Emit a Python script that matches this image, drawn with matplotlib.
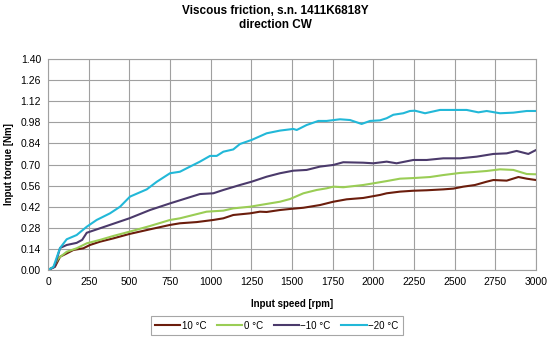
import matplotlib.pyplot as plt
import numpy as np

plt.rcParams['font.family'] = ['Liberation Sans', 'DejaVu Sans']

# values (rpm, Nm)
rpm_p10 = [0, 43, 74, 115, 156, 217, 258, 320, 402, 500, 627, 750, 811, 914, 1016, 1078, 1139,
           1242, 1303, 1344, 1426, 1488, 1570, 1672, 1754, 1836, 1938, 2041, 2082, 2164, 2246,
           2328, 2430, 2492, 2553, 2625, 2697, 2738, 2820, 2892, 2943, 3000]
tq_p10 = [0.0, 0.022, 0.088, 0.11, 0.133, 0.144, 0.166, 0.188, 0.21, 0.239, 0.27, 0.299, 0.31,
          0.318, 0.332, 0.343, 0.365, 0.376, 0.387, 0.385, 0.398, 0.405, 0.413, 0.431, 0.453,
          0.469, 0.478, 0.498, 0.509, 0.52, 0.526, 0.529, 0.535, 0.54, 0.553, 0.564, 0.586,
          0.597, 0.593, 0.617, 0.606, 0.597]

rpm_0 = [0, 33, 64, 115, 176, 238, 320, 402, 500, 627, 750, 811, 975, 1078, 1139, 1242, 1303,
         1426, 1488, 1570, 1652, 1713, 1754, 1815, 1938, 2000, 2082, 2164, 2246, 2349, 2430,
         2533, 2615, 2697, 2779, 2861, 2943, 3000]
tq_0 = [0.0, 0.02, 0.078, 0.121, 0.144, 0.177, 0.2, 0.226, 0.254, 0.292, 0.332, 0.343, 0.387,
        0.394, 0.409, 0.42, 0.431, 0.453, 0.471, 0.509, 0.531, 0.542, 0.553, 0.549, 0.564,
        0.575, 0.59, 0.606, 0.61, 0.617, 0.63, 0.644, 0.65, 0.657, 0.668, 0.664, 0.637, 0.635]

rpm_m10 = [0, 40, 74, 115, 176, 210, 238, 320, 500, 627, 750, 934, 1016, 1078, 1180, 1252,
           1344, 1426, 1508, 1590, 1672, 1754, 1815, 1938, 2000, 2082, 2143, 2246, 2328, 2430,
           2533, 2635, 2738, 2820, 2881, 2953, 3000]
tq_m10 = [0.0, 0.02, 0.146, 0.166, 0.18, 0.2, 0.247, 0.277, 0.343, 0.398, 0.442, 0.504, 0.509,
          0.531, 0.564, 0.586, 0.619, 0.642, 0.659, 0.664, 0.686, 0.697, 0.715, 0.712, 0.708,
          0.719, 0.708, 0.73, 0.73, 0.741, 0.741, 0.752, 0.77, 0.774, 0.79, 0.77, 0.796]

rpm_m20 = [0, 33, 74, 115, 176, 238, 299, 381, 443, 504, 607, 668, 750, 811, 873, 934, 996,
           1037, 1078, 1139, 1180, 1252, 1344, 1426, 1508, 1529, 1590, 1662, 1713, 1795, 1857,
           1928, 1980, 2041, 2082, 2123, 2184, 2225, 2256, 2318, 2410, 2492, 2574, 2646, 2697,
           2779, 2861, 2943, 3000]
tq_m20 = [0.0, 0.02, 0.146, 0.204, 0.232, 0.287, 0.332, 0.376, 0.42, 0.487, 0.535, 0.585,
          0.642, 0.652, 0.686, 0.719, 0.757, 0.757, 0.785, 0.8, 0.836, 0.863, 0.907, 0.925,
          0.936, 0.929, 0.962, 0.989, 0.989, 1.0, 0.995, 0.969, 0.989, 0.993, 1.007, 1.03,
          1.04, 1.055, 1.057, 1.04, 1.062, 1.062, 1.062, 1.046, 1.055, 1.04, 1.044, 1.055,
          1.055]

labels = ['10 °C', '0 °C', '\u221210 °C', '\u221220 °C']
colors = ['#6b1d0c', '#9acd55', '#4b3a6b', '#22b8d8']

fig = plt.figure(figsize=(5.5, 3.42), dpi=100)
ax = fig.add_axes([0.0873, 0.2105, 0.8872, 0.617])

series = [(rpm_p10, tq_p10), (rpm_0, tq_0), (rpm_m10, tq_m10), (rpm_m20, tq_m20)]
for (x, y), lab, c in zip(series, labels, colors):
    ax.plot(x, y, color=c, lw=1.5, label=lab)

ax.set_xlim(0, 3000)
ax.set_ylim(0, 1.4)
ax.set_xticks(np.arange(0, 3001, 250))
ax.set_yticks(np.arange(0, 1.41, 0.14))
ax.yaxis.set_major_formatter(plt.FormatStrFormatter('%.2f'))
ax.grid(True, color='#a0a0a0', lw=0.8)
ax.set_axisbelow(True)
ax.tick_params(labelsize=7.5, length=0, pad=5)
for s in ax.spines.values():
    s.set_color('#a0a0a0')

ax.set_xlabel('Input speed [rpm]', fontsize=7, fontweight='bold', labelpad=9)
ax.set_ylabel('Input torque [Nm]', fontsize=7, fontweight='bold', labelpad=5)
fig.suptitle('Viscous friction, s.n. 1411K6818Y\ndirection CW', fontsize=8.5,
             fontweight='bold', x=0.5, y=0.985)

leg = fig.legend(loc='center', bbox_to_anchor=(0.503, 0.048), ncol=4, fontsize=7,
                 frameon=True, fancybox=False, handlelength=2.6, columnspacing=1.1,
                 borderpad=0.45, handletextpad=0.15)
leg.get_frame().set_edgecolor('#909090')
leg.get_frame().set_linewidth(0.8)

fig.savefig('out.png', dpi=100)
